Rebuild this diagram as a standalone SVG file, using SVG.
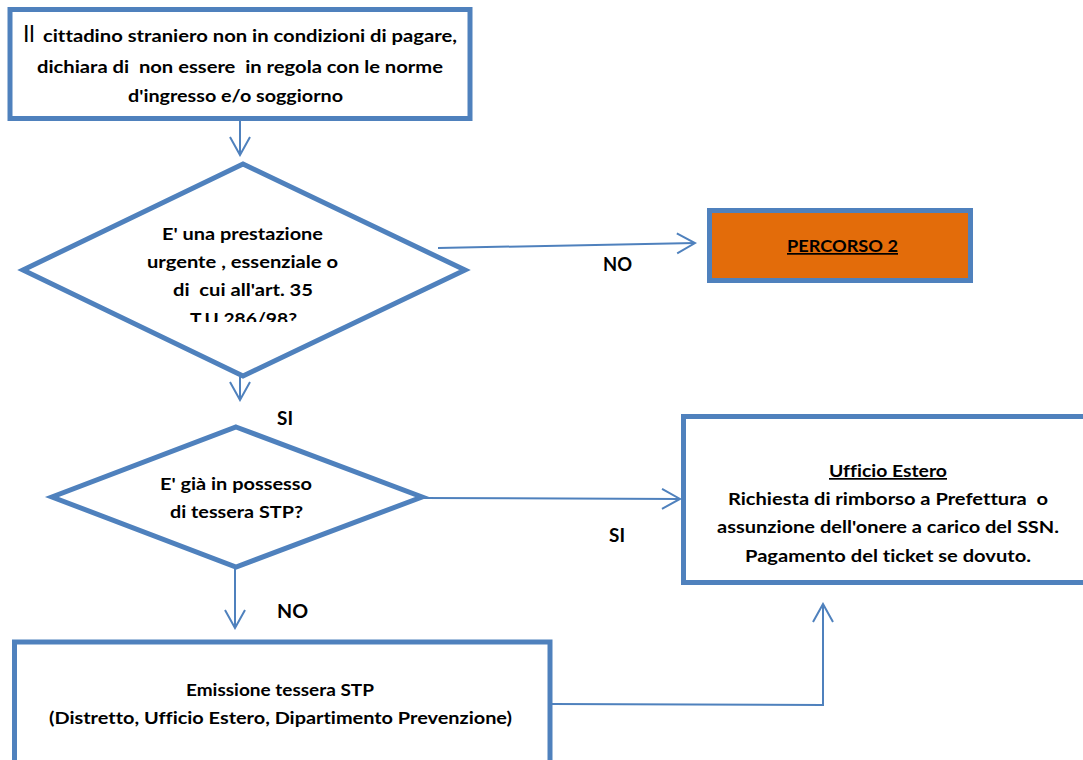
<svg xmlns="http://www.w3.org/2000/svg" width="1083" height="760" viewBox="0 0 1083 760">
<style>
.box{fill:#fff;stroke:#4F81BD;stroke-width:5}
.t{font-family:Lato,"Open Sans","Liberation Sans",sans-serif;font-weight:bold;font-size:17px;fill:#000;white-space:pre;font-variant-ligatures:none}
.lbl{font-family:Lato,"Open Sans","Liberation Sans",sans-serif;font-weight:bold;font-size:18.5px;fill:#000}
.u{text-decoration:underline}
.con{fill:none;stroke:#4F81BD;stroke-width:2}
</style>
<defs>
<marker id="arr" viewBox="-20 -12 22 24" refX="0" refY="0" markerWidth="22" markerHeight="24" markerUnits="userSpaceOnUse" orient="auto">
<path d="M-18,-10 L0,0 L-18,10" fill="none" stroke="#4F81BD" stroke-width="2"/>
</marker>
<clipPath id="clipD1"><rect x="100" y="200" width="290" height="122"/></clipPath>
</defs>
<rect width="1083" height="760" fill="#fff"/>

<g id="connectors">
<line class="con" x1="240" y1="121" x2="240" y2="155" marker-end="url(#arr)"/>
<line class="con" x1="438" y1="248" x2="695" y2="243" marker-end="url(#arr)"/>
<line class="con" x1="240" y1="377" x2="240" y2="400" marker-end="url(#arr)"/>
<line class="con" x1="422" y1="498" x2="680" y2="499" marker-end="url(#arr)"/>
<line class="con" x1="235" y1="568" x2="235" y2="628" marker-end="url(#arr)"/>
<polyline class="con" points="552,704 823,705 823,604" marker-end="url(#arr)"/>
</g>

<g id="start">
<rect class="box" x="10" y="9.5" width="460" height="109"/>
<text x="23" y="42" style="font-family:Lato,'Open Sans','Liberation Sans',sans-serif;font-size:23px;fill:#000">Il</text>
<text class="t" x="43" y="42" textLength="414" lengthAdjust="spacingAndGlyphs">cittadino straniero non in condizioni di pagare,</text>
<text class="t" x="37" y="73" textLength="406" lengthAdjust="spacingAndGlyphs">dichiara di  non essere  in regola con le norme</text>
<text class="t" x="128" y="102" textLength="215" lengthAdjust="spacingAndGlyphs">d'ingresso e/o soggiorno</text>
</g>

<g id="decision1">
<polygon class="box" points="243,164 465,270 243,376 23,270"/>
<g clip-path="url(#clipD1)">
<text class="t" x="162" y="240" textLength="161" lengthAdjust="spacingAndGlyphs">E' una prestazione</text>
<text class="t" x="147" y="268" textLength="191" lengthAdjust="spacingAndGlyphs">urgente , essenziale o</text>
<text class="t" x="173" y="296" textLength="140" lengthAdjust="spacingAndGlyphs">di  cui all'art. 35</text>
<text class="t" x="190" y="325" textLength="107" lengthAdjust="spacingAndGlyphs">T.U 286/98?</text>
</g>
</g>

<g id="percorso2">
<rect x="709.5" y="210.5" width="261" height="70" fill="#E36C0A" stroke="#4F81BD" stroke-width="5"/>
<text class="t u" x="787" y="252" textLength="111" lengthAdjust="spacingAndGlyphs">PERCORSO 2</text>
</g>

<g id="label-no1"><text class="lbl" x="603" y="271" textLength="29" lengthAdjust="spacingAndGlyphs">NO</text></g>
<g id="label-si1"><text class="lbl" x="277" y="425" textLength="16" lengthAdjust="spacingAndGlyphs">SI</text></g>

<g id="decision2">
<polygon class="box" points="236,427 422,497 236,567 52,497"/>
<text class="t" x="160" y="490" textLength="152" lengthAdjust="spacingAndGlyphs">E' già in possesso</text>
<text class="t" x="170" y="518" textLength="133" lengthAdjust="spacingAndGlyphs">di tessera STP?</text>
</g>

<g id="label-si2"><text class="lbl" x="609" y="542" textLength="16" lengthAdjust="spacingAndGlyphs">SI</text></g>
<g id="label-no2"><text class="lbl" x="277" y="618" textLength="31" lengthAdjust="spacingAndGlyphs">NO</text></g>

<g id="ufficio">
<rect class="box" x="683.5" y="416.5" width="420" height="166"/>
<text class="t u" x="829" y="477" textLength="118" lengthAdjust="spacingAndGlyphs">Ufficio Estero</text>
<text class="t" x="728" y="505" textLength="320" lengthAdjust="spacingAndGlyphs">Richiesta di rimborso a Prefettura  o</text>
<text class="t" x="717" y="533" textLength="342" lengthAdjust="spacingAndGlyphs">assunzione dell'onere a carico del SSN.</text>
<text class="t" x="745" y="562" textLength="286" lengthAdjust="spacingAndGlyphs">Pagamento del ticket se dovuto.</text>
</g>

<g id="emissione">
<rect class="box" x="14.5" y="642" width="535.5" height="140"/>
<text class="t" x="186" y="696" textLength="188" lengthAdjust="spacingAndGlyphs">Emissione tessera STP</text>
<text class="t" x="49" y="724" textLength="463" lengthAdjust="spacingAndGlyphs">(Distretto, Ufficio Estero, Dipartimento Prevenzione)</text>
</g>
</svg>
